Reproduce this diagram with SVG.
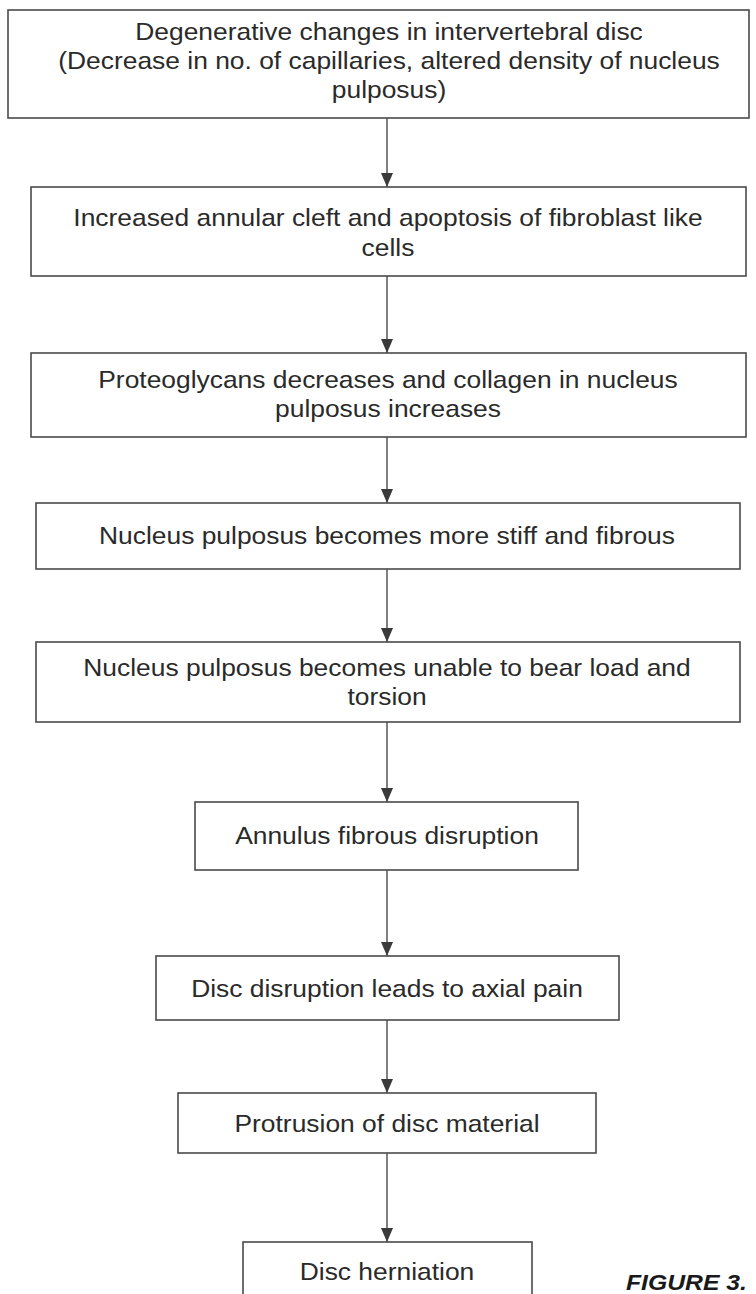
<svg xmlns="http://www.w3.org/2000/svg" width="756" height="1294" viewBox="0 0 756 1294">
<defs>
<style>
.box{fill:#fff;stroke:#4a4a4a;stroke-width:1.6}
.t{font-family:"Liberation Sans",Arial,sans-serif;font-size:24px;fill:#2a2a2a;text-anchor:middle}
.c{stroke:#606060;stroke-width:1.6;fill:none}
.fig{font-family:"Liberation Sans",Arial,sans-serif;font-size:22.5px;font-weight:bold;font-style:italic;fill:#1a1a1a}
</style>
<marker id="ah" markerWidth="14" markerHeight="12" refX="14" refY="6" orient="auto" markerUnits="userSpaceOnUse" viewBox="0 0 14 12">
<path d="M0,0 L14,6 L0,12 Z" fill="#3a3a3a"/>
</marker>
</defs>
<rect width="756" height="1294" fill="#fff"/>
<g id="connectors">
<path class="c" d="M387,118 V187" marker-end="url(#ah)"/>
<path class="c" d="M387,276 V353" marker-end="url(#ah)"/>
<path class="c" d="M387,437 V503" marker-end="url(#ah)"/>
<path class="c" d="M387,569 V642" marker-end="url(#ah)"/>
<path class="c" d="M387,722 V802" marker-end="url(#ah)"/>
<path class="c" d="M387,870 V956" marker-end="url(#ah)"/>
<path class="c" d="M387,1020 V1093" marker-end="url(#ah)"/>
<path class="c" d="M387,1153 V1242" marker-end="url(#ah)"/>
</g>
<g id="n1">
<rect class="box" x="8" y="10" width="741" height="108"/>
<g transform="translate(389,0) scale(1.1,1)">
<text class="t" x="0" y="40">Degenerative changes in intervertebral disc</text>
<text class="t" x="0" y="69">(Decrease in no. of capillaries, altered density of nucleus</text>
<text class="t" x="0" y="98">pulposus)</text>
</g>
</g>
<g id="n2">
<rect class="box" x="31" y="187" width="715" height="89"/>
<g transform="translate(388,0) scale(1.1,1)">
<text class="t" x="0" y="226">Increased annular cleft and apoptosis of fibroblast like</text>
<text class="t" x="0" y="256">cells</text>
</g>
</g>
<g id="n3">
<rect class="box" x="31" y="353" width="715" height="84"/>
<g transform="translate(388,0) scale(1.1,1)">
<text class="t" x="0" y="388">Proteoglycans decreases and collagen in nucleus</text>
<text class="t" x="0" y="417">pulposus increases</text>
</g>
</g>
<g id="n4">
<rect class="box" x="36" y="503" width="704" height="66"/>
<g transform="translate(387,0) scale(1.1,1)">
<text class="t" x="0" y="544">Nucleus pulposus becomes more stiff and fibrous</text>
</g>
</g>
<g id="n5">
<rect class="box" x="36" y="642" width="704" height="80"/>
<g transform="translate(387,0) scale(1.1,1)">
<text class="t" x="0" y="676">Nucleus pulposus becomes unable to bear load and</text>
<text class="t" x="0" y="705">torsion</text>
</g>
</g>
<g id="n6">
<rect class="box" x="195" y="802" width="383" height="68"/>
<g transform="translate(387,0) scale(1.1,1)">
<text class="t" x="0" y="844">Annulus fibrous disruption</text>
</g>
</g>
<g id="n7">
<rect class="box" x="156" y="956" width="463" height="64"/>
<g transform="translate(387,0) scale(1.1,1)">
<text class="t" x="0" y="997">Disc disruption leads to axial pain</text>
</g>
</g>
<g id="n8">
<rect class="box" x="178" y="1093" width="418" height="60"/>
<g transform="translate(387,0) scale(1.1,1)">
<text class="t" x="0" y="1132">Protrusion of disc material</text>
</g>
</g>
<g id="n9">
<rect class="box" x="243" y="1242" width="289" height="70"/>
<g transform="translate(387,0) scale(1.1,1)">
<text class="t" x="0" y="1280">Disc herniation</text>
</g>
</g>
<g id="caption">
<text class="fig" transform="translate(626,1290) scale(1.1,1)" x="0" y="0">FIGURE 3.</text>
</g>
</svg>
